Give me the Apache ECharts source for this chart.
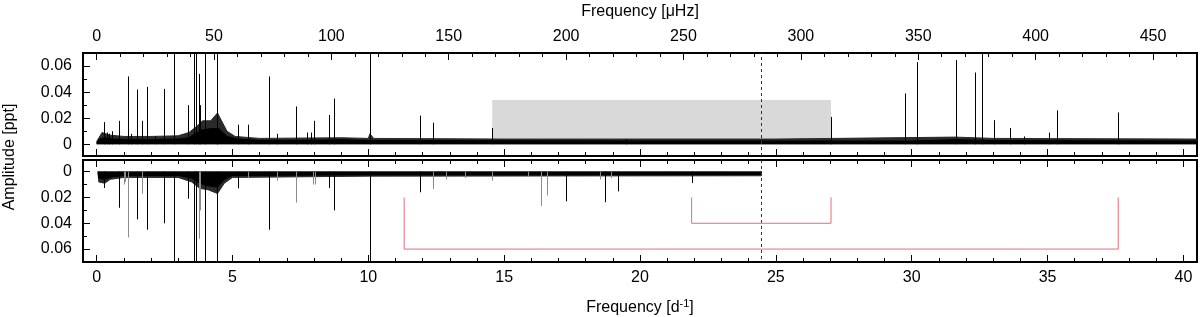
<!DOCTYPE html>
<html><head><meta charset="utf-8">
<script src="https://cdn.jsdelivr.net/npm/echarts@6/dist/echarts.min.js"></script>
<style>html,body{margin:0;padding:0;background:#fff}#c{width:1200px;height:317px}</style>
</head><body><div id="c"></div>
<script>
// ---- tick labels ----
const freqTicks = [0, 5, 10, 15, 20, 25, 30, 35, 40];
const freqMinorTicks = [0,1,2,3,4,5,6,7,8,9,10,11,12,13,14,15,16,17,18,19,20,21,22,23,24,25,26,27,28,29,30,31,32,33,34,35,36,37,38,39,40];
const uHzTicks = [0, 50, 100, 150, 200, 250, 300, 350, 400, 450];
const uHzMinorTicks = [0,10,20,30,40,50,60,70,80,90,100,110,120,130,140,150,160,170,180,190,200,210,220,230,240,250,260,270,280,290,300,310,320,330,340,350,360,370,380,390,400,410,420,430,440,450,460];
const ampTicks = [0, 0.02, 0.04, 0.06];
const ampMinorTicks = [0.01, 0.03, 0.05];

// ---- top panel: amplitude spectrum (freq d^-1, amplitude ppt) ----
const topPeaks = [
  [0.29,0.017],[0.40,0.009],[0.45,0.008],[0.55,0.010],[0.83,0.018],[1.14,0.052],[1.27,0.008],
  [1.49,0.042],[1.68,0.018],[1.86,0.044],[2.16,0.006],[2.49,0.0425],[2.85,0.07],[3.37,0.030],
  [3.59,0.07],[3.65,0.07],[3.77,0.054],[3.82,0.030],[3.99,0.07],[4.42,0.07],[4.45,0.07],
  [5.21,0.015],[5.59,0.015],[6.35,0.052],[6.64,0.008],[7.35,0.029],[7.75,0.009],[7.90,0.009],
  [8.00,0.018],[8.56,0.0225],[8.73,0.035],[10.06,0.07],[11.92,0.022],[12.38,0.0165],
  [14.56,0.0125],[19.5,0.004],[27.03,0.021],[29.74,0.039],[30.18,0.063],[31.64,0.0646],
  [32.34,0.055],[32.57,0.07],[33.04,0.0185],[33.63,0.0125],[34.14,0.006],[35.04,0.009],
  [35.36,0.026],[37.6,0.0244]
];
const topNoiseCore = [
  [0,0.001],[0.1,0.004],[0.3,0.005],[0.6,0.004],[1,0.0035],[2,0.0035],[3,0.004],[3.4,0.005],
  [3.6,0.008],[3.9,0.011],[4.2,0.012],[4.5,0.012],[4.8,0.006],[5.2,0.004],[6,0.003],[8,0.003],
  [9,0.0035],[10,0.003],[12,0.0028],[20,0.0025],[30,0.0025],[31.6,0.0035],[33,0.0028],[40.5,0.0025]
];
const topNoiseFuzz = [
  [0,0.002],[0.2,0.009],[0.5,0.007],[1,0.006],[2,0.006],[3,0.0065],[3.4,0.009],[3.7,0.014],
  [3.9,0.018],[4.2,0.018],[4.45,0.024],[4.6,0.018],[4.8,0.01],[5.1,0.006],[6,0.0045],[9,0.005],
  [10,0.0045],[10.06,0.008],[10.2,0.0045],[15,0.004],[25,0.004],[31.6,0.0055],[33,0.0045],[40.5,0.004]
];
const shadedBox = [[14.56, 27.03, 0, 0.034]];   // [f1, f2, a1, a2]

// ---- bottom panel: second spectrum (plotted downward) ----
const bottomPeaksBlack = [
  [0.29,0.0127],[0.83,0.028],[1.49,0.037],[1.86,0.045],[2.49,0.040],[2.85,0.07],[3.37,0.021],
  [3.59,0.07],[3.65,0.07],[3.99,0.07],[4.43,0.07],[5.21,0.013],[6.35,0.045],[8.56,0.0127],
  [8.73,0.030],[10.06,0.07],[11.92,0.016],[17.27,0.023],[18.73,0.0237],[19.2,0.0153],[21.9,0.0088]
];
const bottomPeaksGray = [
  [1.0,0.010],[1.05,0.008],[1.14,0.051],[1.68,0.017],[3.77,0.052],[3.82,0.030],[5.59,0.005],
  [6.64,0.007],[7.35,0.024],[7.95,0.010],[8.05,0.010],[12.39,0.0135],[12.86,0.006],[13.56,0.005],
  [14.56,0.007],[15.89,0.004],[16.35,0.0265],[16.59,0.0185],[18.53,0.006],[18.95,0.005]
];
const bottomNoiseCore = [
  [0.05,0],[0.08,0.005],[0.3,0.006],[0.6,0.004],[1,0.003],[3,0.003],[3.5,0.005],[3.8,0.009],
  [4.1,0.011],[4.45,0.012],[4.7,0.006],[5,0.003],[10,0.0025],[24.47,0.0022],[24.47,0]
];
const bottomNoiseFuzz = [
  [0.05,0],[0.08,0.008],[0.3,0.009],[0.5,0.006],[1,0.0045],[3,0.0045],[3.5,0.008],[3.8,0.013],
  [4.1,0.014],[4.45,0.017],[4.7,0.009],[5,0.0045],[10,0.0035],[24.47,0.0032],[24.47,0]
];
const bracketWide = [[11.32,0.02],[11.32,0.06],[37.6,0.06],[37.6,0.02]];
const bracketNarrow = [[21.9,0.02],[21.9,0.04],[27.03,0.04],[27.03,0.02]];
const nyquistFreq = 24.47;

// ---- chart ----
const D2UHZ = 11.5741;
const X_MIN = -0.5, X_MAX = 40.5, Y_MIN = -0.009, Y_MAX = 0.07;
const FONT = "'Liberation Sans', Arial, Helvetica, sans-serif";

function tick(ticks, len) {
  return { show: true, inside: true, length: len, customValues: ticks, lineStyle: { color: '#000', width: 1 } };
}
function dAxis(gridIndex, position, ticks, len, withLabels, extra) {
  return Object.assign({
    type: 'value', gridIndex, position, min: X_MIN, max: X_MAX,
    axisLine: { show: false, onZero: false }, splitLine: { show: false },
    axisTick: tick(ticks, len),
    axisLabel: { show: !!withLabels, customValues: freqTicks, margin: 8, color: '#000', fontSize: 16, fontFamily: FONT }
  }, extra || {});
}
function uAxis(ticks, len, withLabels, extra) {
  return Object.assign({
    type: 'value', gridIndex: 0, position: 'top', min: X_MIN * D2UHZ, max: X_MAX * D2UHZ,
    axisLine: { show: false, onZero: false }, splitLine: { show: false },
    axisTick: tick(ticks, len),
    axisLabel: { show: !!withLabels, customValues: uHzTicks, margin: 8, color: '#000', fontSize: 16, fontFamily: FONT }
  }, extra || {});
}
function aAxis(gridIndex, ticks, len, withLabels, inverse) {
  return {
    type: 'value', gridIndex, position: 'left', min: Y_MIN, max: Y_MAX, inverse: !!inverse,
    axisLine: { show: false, onZero: false }, splitLine: { show: false },
    axisTick: tick(ticks, len),
    axisLabel: { show: !!withLabels, customValues: ampTicks, margin: 11, color: '#000', fontSize: 16, fontFamily: FONT }
  };
}
function peakRender(color) {
  return function (params, api) {
    const f = api.value(0), a = api.value(1);
    const p0 = api.coord([f, 0]), p1 = api.coord([f, a]);
    const px = Math.round(p0[0]) + 0.5;
    return { type: 'line', shape: { x1: px, y1: p0[1], x2: px, y2: p1[1] },
      style: { stroke: color, lineWidth: 1 } };
  };
}
const dashLine = {
  symbol: ['none', 'none'], silent: true, label: { show: false },
  lineStyle: { color: '#333', type: [3, 3], width: 1 }, data: [{ xAxis: nyquistFreq }]
};

const option = {
  animation: false,
  backgroundColor: '#fff',
  textStyle: { fontFamily: FONT },
  grid: [
    { left: 83, right: 3, top: 53, height: 103, show: true, borderColor: '#000', borderWidth: 2, backgroundColor: 'transparent' },
    { left: 83, right: 3, top: 160, height: 102, show: true, borderColor: '#000', borderWidth: 2, backgroundColor: 'transparent' }
  ],
  xAxis: [
    dAxis(0, 'bottom', freqTicks, 7, false),            // 0
    dAxis(0, 'bottom', freqMinorTicks, 4, false),       // 1
    uAxis(uHzTicks, 7, true, {                          // 2
      name: 'Frequency [μHz]', nameLocation: 'middle', nameGap: 33,
      nameTextStyle: { color: '#000', fontSize: 16, fontFamily: FONT } }),
    uAxis(uHzMinorTicks, 4, false),                     // 3
    dAxis(1, 'top', freqTicks, 7, false),               // 4
    dAxis(1, 'top', freqMinorTicks, 4, false),          // 5
    dAxis(1, 'bottom', freqTicks, 7, true, {            // 6
      name: 'Frequency [d{sup|-1}]', nameLocation: 'middle', nameGap: 36,
      nameTextStyle: { color: '#000', fontSize: 16, fontFamily: FONT,
        rich: { sup: { fontSize: 11, verticalAlign: 'bottom', padding: [0, 0, 9, 0], color: '#000', fontFamily: FONT } } } }),
    dAxis(1, 'bottom', freqMinorTicks, 4, false)        // 7
  ],
  yAxis: [
    aAxis(0, ampTicks, 7, true, false),
    aAxis(0, ampMinorTicks, 4, false, false),
    aAxis(1, ampTicks, 7, true, true),
    aAxis(1, ampMinorTicks, 4, false, true)
  ],
  graphic: [{
    type: 'text', x: 10, y: 157, rotation: Math.PI / 2,
    style: { text: 'Amplitude [ppt]', fill: '#000', font: "16px 'Liberation Sans', Arial, sans-serif",
      align: 'center', verticalAlign: 'middle' }
  }],
  series: [
    { type: 'custom', xAxisIndex: 0, yAxisIndex: 0, z: 1, silent: true, clip: true, data: shadedBox,
      renderItem: function (params, api) {
        const p0 = api.coord([api.value(0), api.value(3)]);
        const p1 = api.coord([api.value(1), api.value(2)]);
        return { type: 'rect', shape: { x: p0[0], y: p0[1], width: p1[0] - p0[0], height: p1[1] - p0[1] },
          style: { fill: '#d9d9d9' } };
      } },
    { type: 'line', xAxisIndex: 0, yAxisIndex: 0, z: 2, silent: true, symbol: 'none', data: topNoiseFuzz,
      lineStyle: { color: '#2a2a2a', width: 1 }, areaStyle: { color: '#2a2a2a', opacity: 1 } },
    { type: 'line', xAxisIndex: 0, yAxisIndex: 0, z: 3, silent: true, symbol: 'none', data: topNoiseCore,
      lineStyle: { color: '#000', width: 1 }, areaStyle: { color: '#000', opacity: 1 } },
    { type: 'custom', xAxisIndex: 0, yAxisIndex: 0, z: 4, silent: true, clip: true, data: topPeaks,
      renderItem: peakRender('#000'), markLine: dashLine },

    { type: 'line', xAxisIndex: 6, yAxisIndex: 2, z: 2, silent: true, symbol: 'none', data: bottomNoiseFuzz,
      lineStyle: { color: '#2a2a2a', width: 1 }, areaStyle: { color: '#2a2a2a', opacity: 1 } },
    { type: 'line', xAxisIndex: 6, yAxisIndex: 2, z: 3, silent: true, symbol: 'none', data: bottomNoiseCore,
      lineStyle: { color: '#000', width: 1 }, areaStyle: { color: '#000', opacity: 1 } },
    { type: 'custom', xAxisIndex: 6, yAxisIndex: 2, z: 4, silent: true, clip: true, data: bottomPeaksGray,
      renderItem: peakRender('#8c8c8c') },
    { type: 'custom', xAxisIndex: 6, yAxisIndex: 2, z: 4, silent: true, clip: true, data: bottomPeaksBlack,
      renderItem: peakRender('#000'), markLine: dashLine },
    { type: 'line', xAxisIndex: 6, yAxisIndex: 2, z: 5, silent: true, symbol: 'none', data: bracketWide,
      lineStyle: { color: '#e56c78', width: 1 } },
    { type: 'line', xAxisIndex: 6, yAxisIndex: 2, z: 5, silent: true, symbol: 'none', data: bracketNarrow,
      lineStyle: { color: '#e56c78', width: 1 } }
  ]
};
const chart = echarts.init(document.getElementById('c'), null, { renderer: 'canvas' });
chart.setOption(option);
</script>
</body></html>
